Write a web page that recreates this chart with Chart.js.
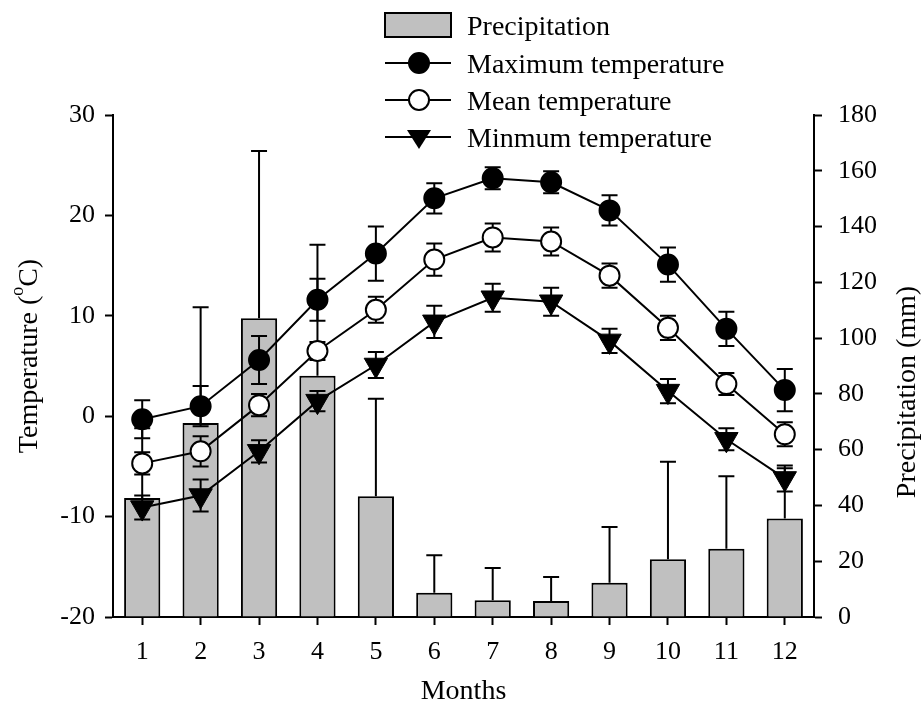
<!DOCTYPE html>
<html lang="en">
<head>
  <meta charset="UTF-8" />
  <title>Monthly climate</title>
  <script src="https://cdn.jsdelivr.net/npm/chart.js"></script>
  <style>
    body {
      margin: 0;
      padding: 0;
      background: #fff;
      font-family: "Liberation Serif", serif;
    }

    .wrap {
      position: relative;
      width: 924px;
      height: 708px;
    }

    .wrap canvas, .wrap svg {
      position: absolute;
      left: 0;
      top: 0;
    }

    svg text {
      font-family: "Liberation Serif", serif;
      fill: #000;
    }
  </style>
</head>
<body>

  <div class="wrap">
    <canvas id="climate" width="924" height="708"></canvas>

    <svg width="924" height="708" style="pointer-events:none">
      <!-- legend -->
      <rect x="385" y="13" width="66" height="24" fill="#c0c0c0" stroke="#000" stroke-width="2"/>
      <text x="467" y="25" font-size="28" dominant-baseline="central">Precipitation</text>

      <line x1="385" y1="63" x2="451" y2="63" stroke="#000" stroke-width="2"/>
      <circle cx="419" cy="63" r="10" fill="#000" stroke="#000" stroke-width="2"/>
      <text x="467" y="63" font-size="28" dominant-baseline="central">Maximum temperature</text>

      <line x1="385" y1="100" x2="451" y2="100" stroke="#000" stroke-width="2"/>
      <circle cx="419" cy="100" r="10" fill="#fff" stroke="#000" stroke-width="2"/>
      <text x="467" y="100" font-size="28" dominant-baseline="central">Mean temperature</text>

      <line x1="385" y1="137" x2="451" y2="137" stroke="#000" stroke-width="2"/>
      <polygon points="407,130 431,130 419,149" fill="#000"/>
      <text x="467" y="137" font-size="28" dominant-baseline="central">Minmum temperature</text>

      <!-- axis titles -->
      <text transform="translate(27,356) rotate(-90)" font-size="28" text-anchor="middle" dominant-baseline="central">Temperature (<tspan font-size="18" dy="-10">o</tspan><tspan dy="10">C)</tspan></text>
      <text transform="translate(905,392) rotate(-90)" font-size="28" text-anchor="middle" dominant-baseline="central">Precipitation (mm)</text>
    </svg>
  </div>

  <script>
    const months = ['1', '2', '3', '4', '5', '6', '7', '8', '9', '10', '11', '12'];

    const precip = [42.7, 69.6, 107.1, 86.5, 43.3, 8.7, 6.0, 5.7, 12.3, 20.7, 24.5, 35.3];
    const precipErr = [25, 41.5, 60, 47, 35, 13.4, 11.6, 8.6, 20, 35, 26, 18];

    const tMax = [-0.3, 1.0, 5.6, 11.6, 16.2, 21.7, 23.7, 23.3, 20.5, 15.1, 8.7, 2.6];
    const tMaxErr = [1.9, 2.0, 2.4, 2.1, 2.7, 1.5, 1.1, 1.1, 1.5, 1.7, 1.7, 2.1];

    const tMean = [-4.7, -3.5, 1.1, 6.5, 10.6, 15.6, 17.8, 17.4, 14.0, 8.8, 3.2, -1.8];
    const tMeanErr = [1.1, 1.5, 1.1, 0.9, 1.3, 1.6, 1.4, 1.4, 1.2, 1.2, 1.1, 1.2];

    const tMin = [-9.1, -7.9, -3.5, 1.5, 5.1, 9.4, 11.8, 11.4, 7.5, 2.5, -2.3, -6.2];
    const tMinErr = [1.2, 1.6, 1.1, 1.0, 1.3, 1.6, 1.4, 1.4, 1.2, 1.2, 1.1, 1.3];

    const tempTicks = [-20, -10, 0, 10, 20, 30];
    const precipTicks = [0, 20, 40, 60, 80, 100, 120, 140, 160, 180];

    Chart.defaults.font.family = '"Liberation Serif", serif';
    Chart.defaults.color = '#000';

    // error bars: lines get both caps (drawn under the line), bars only the upper one
    function drawErrors(chart, index, both) {
      const ds = chart.data.datasets[index];
      const meta = chart.getDatasetMeta(index);
      const y = chart.scales[ds.yAxisID];
      const ctx = chart.ctx;
      ctx.save();
      ctx.strokeStyle = '#000';
      ctx.lineWidth = 2;
      meta.data.forEach((el, j) => {
        const v = ds.data[j], e = ds.errs[j];
        const x = el.x;
        const top = y.getPixelForValue(v + e);
        const bot = y.getPixelForValue(both ? v - e : v);
        ctx.beginPath();
        ctx.moveTo(x, top); ctx.lineTo(x, bot);
        ctx.moveTo(x - 8, top); ctx.lineTo(x + 8, top);
        if (both) { ctx.moveTo(x - 8, bot); ctx.lineTo(x + 8, bot); }
        ctx.stroke();
      });
      ctx.restore();
    }

    const errorBars = {
      id: 'errorBars',
      beforeDatasetDraw(chart, args) {
        if (chart.data.datasets[args.index].type === 'line') drawErrors(chart, args.index, true);
      },
      afterDatasetDraw(chart, args) {
        if (chart.data.datasets[args.index].type === 'bar') drawErrors(chart, args.index, false);
      }
    };

    const lineStyle = {
      type: 'line',
      yAxisID: 'yT',
      borderColor: '#000',
      borderWidth: 2,
      pointBorderColor: '#000',
      pointBorderWidth: 2,
      tension: 0,
      order: 1
    };

    const axisFont = { size: 26 };
    const gridStyle = { drawOnChartArea: false, tickLength: 8, tickColor: '#000', tickWidth: 2 };

    new Chart(document.getElementById('climate'), {
      type: 'bar',
      data: {
        labels: months,
        datasets: [
          {
            type: 'bar',
            label: 'Precipitation',
            data: precip,
            errs: precipErr,
            yAxisID: 'yP',
            backgroundColor: '#c0c0c0',
            borderColor: '#000',
            borderWidth: 2,
            barPercentage: 0.62,
            categoryPercentage: 1,
            order: 3
          },
          { ...lineStyle, label: 'Maximum temperature', data: tMax, errs: tMaxErr,
            pointStyle: 'circle', pointRadius: 10, pointBackgroundColor: '#000' },
          { ...lineStyle, label: 'Mean temperature', data: tMean, errs: tMeanErr,
            pointStyle: 'circle', pointRadius: 10, pointBackgroundColor: '#fff' },
          { ...lineStyle, label: 'Minmum temperature', data: tMin, errs: tMinErr,
            pointStyle: 'triangle', rotation: 180, pointRadius: 13.5, pointBorderWidth: 1,
            pointBackgroundColor: '#000' }
        ]
      },
      options: {
        responsive: false,
        animation: false,
        layout: { padding: { top: 115, left: 0, right: 0, bottom: 0 } },
        plugins: {
          legend: { display: false },
          tooltip: { enabled: false }
        },
        scales: {
          x: {
            offset: true,
            grid: { ...gridStyle, offset: false },
            border: { color: '#000', width: 2 },
            ticks: { font: axisFont, padding: 12 },
            title: { display: true, text: 'Months', font: { size: 28 }, padding: 0 },
            afterFit(s) { s.height = 91; }
          },
          yT: {
            position: 'left',
            min: -20,
            max: 30,
            grid: gridStyle,
            border: { color: '#000', width: 2 },
            afterBuildTicks(s) { s.ticks = tempTicks.map(v => ({ value: v })); },
            ticks: { font: axisFont, padding: 10 },
            afterFit(s) { s.width = 113; }
          },
          yP: {
            position: 'right',
            min: 0,
            max: 180,
            grid: gridStyle,
            border: { color: '#000', width: 2 },
            afterBuildTicks(s) { s.ticks = precipTicks.map(v => ({ value: v })); },
            ticks: { font: axisFont, padding: 16 },
            afterFit(s) { s.width = 110; }
          }
        }
      },
      plugins: [errorBars]
    });
  </script>
</body>
</html>
